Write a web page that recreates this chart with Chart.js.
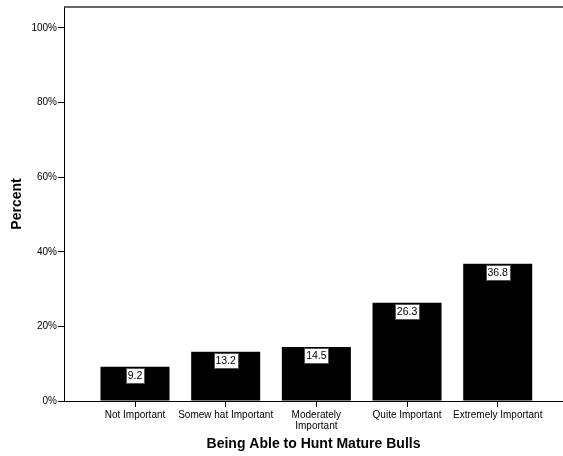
<!DOCTYPE html>
<html>
<head>
<meta charset="utf-8">
<script src="https://cdn.jsdelivr.net/npm/chart.js@4/dist/chart.umd.min.js"></script>
<style>
  html, body { margin: 0; padding: 0; background: #fff; }
  #wrap { width: 563px; height: 456px; }
</style>
</head>
<body>
<div id="wrap"><canvas id="barChart"></canvas></div>
<script>
// chart data
const categories = ['Not Important', 'Somew hat Important', ['Moderately', 'Important'], 'Quite Important', 'Extremely Important'];
const percentValues = [9.2, 13.2, 14.5, 26.3, 36.8];
const yTickValues = [0, 20, 40, 60, 80, 100];

const FONT = 'Liberation Sans, Arial, sans-serif';

// white boxes with the value just under the top of each bar
const valueLabels = {
    id: 'valueLabels',
    afterDatasetsDraw(chart) {
        const ctx = chart.ctx;
        const meta = chart.getDatasetMeta(0);
        ctx.save();
        ctx.font = '10.5px ' + FONT;
        ctx.textAlign = 'center';
        ctx.textBaseline = 'middle';
        meta.data.forEach((bar, i) => {
            const text = percentValues[i].toFixed(1);
            const w = Math.ceil(ctx.measureText(text).width) + 3;
            const h = 15;
            const x = Math.round(bar.x - w / 2) + 0.5;
            const y = Math.round(bar.y) + 1.5;
            ctx.fillStyle = '#fff';
            ctx.fillRect(x, y, w, h);
            ctx.strokeStyle = '#555';
            ctx.lineWidth = 1;
            ctx.strokeRect(x, y, w, h);
            ctx.fillStyle = '#000';
            ctx.fillText(text, bar.x, y + h / 2 + 0.5);
        });
        ctx.restore();
    }
};

// top frame line of the plot area
const topFrame = {
    id: 'topFrame',
    afterDraw(chart) {
        const ctx = chart.ctx;
        const a = chart.chartArea;
        ctx.save();
        ctx.strokeStyle = '#333';
        ctx.lineWidth = 1.5;
        ctx.beginPath();
        ctx.moveTo(a.left, a.top);
        ctx.lineTo(chart.width, a.top);
        ctx.stroke();
        ctx.restore();
    }
};

function renderChart() {
    const ctx = document.getElementById('barChart').getContext('2d');

    new Chart(ctx, {
        type: 'bar',
        data: {
            datasets: [{
                data: percentValues.map((v, i) => ({ x: i, y: v })),
                backgroundColor: '#000',
                borderWidth: 0,
                categoryPercentage: 1,
                barPercentage: 0.761
            }]
        },
        options: {
            responsive: true,
            maintainAspectRatio: false,
            animation: false,
            layout: { padding: { top: 7, right: 0, left: 0, bottom: 0 } },
            scales: {
                x: {
                    type: 'linear',
                    offset: false,
                    min: -0.783,
                    max: 4.72,
                    afterBuildTicks: scale => {
                        scale.ticks = categories.map((c, i) => ({ value: i }));
                    },
                    afterFit: scale => { scale.height = 55; },
                    border: { display: true, color: '#000', width: 1 },
                    grid: { offset: false, drawOnChartArea: false, drawTicks: true, tickLength: 6, color: '#000' },
                    ticks: {
                        color: '#000',
                        padding: 2,
                        maxRotation: 0,
                        autoSkip: false,
                        font: { family: FONT, size: 10, lineHeight: 1.15 },
                        callback: value => categories[value]
                    },
                    title: {
                        display: true,
                        text: 'Being Able to Hunt Mature Bulls',
                        color: '#000',
                        font: { family: FONT, size: 14, weight: 'bold' },
                        padding: { top: 0, bottom: 3 }
                    }
                },
                y: {
                    min: 0,
                    max: 105.6,
                    afterBuildTicks: scale => {
                        scale.ticks = yTickValues.map(v => ({ value: v }));
                    },
                    afterFit: scale => { scale.width = 64; },
                    border: { display: true, color: '#000', width: 1 },
                    grid: { drawOnChartArea: false, drawTicks: true, tickLength: 6, color: '#000' },
                    ticks: {
                        color: '#000',
                        padding: 1,
                        font: { family: FONT, size: 10 },
                        callback: value => value + '%'
                    },
                    title: {
                        display: true,
                        text: 'Percent',
                        color: '#000',
                        font: { family: FONT, size: 14, weight: 'bold' },
                        padding: { top: 9, bottom: 0 }
                    }
                }
            },
            plugins: {
                legend: { display: false },
                tooltip: { enabled: false }
            }
        },
        plugins: [valueLabels, topFrame]
    });
}

renderChart();
</script>
</body>
</html>
